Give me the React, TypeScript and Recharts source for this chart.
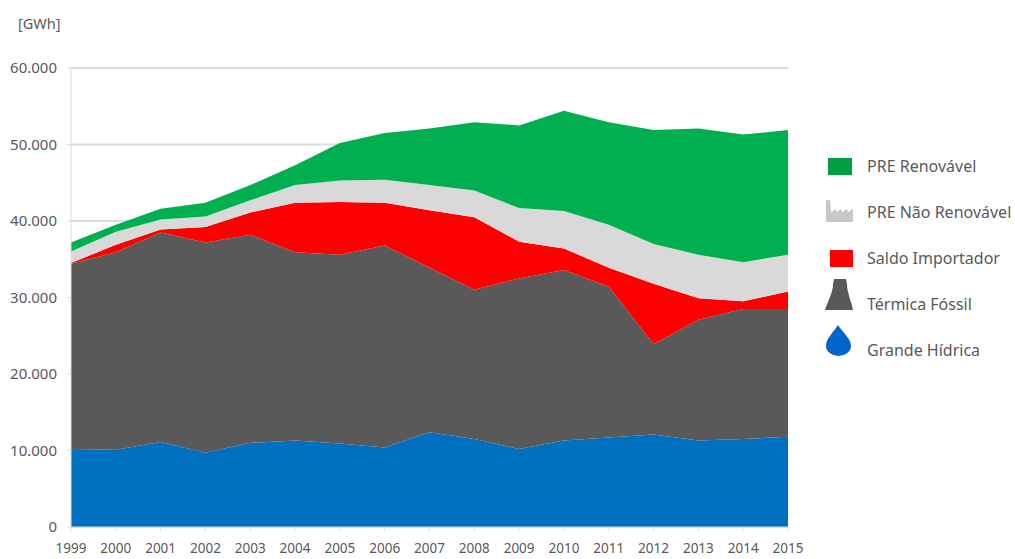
import React from 'react';
import { AreaChart, Area, XAxis, YAxis, CartesianGrid, Legend } from 'recharts';

const years = ['1999', '2000', '2001', '2002', '2003', '2004', '2005', '2006', '2007', '2008', '2009', '2010', '2011', '2012', '2013', '2014', '2015'];
const grandeHidrica = [10200, 10100, 11100, 9700, 11000, 11300, 10900, 10400, 12400, 11500, 10200, 11300, 11700, 12100, 11300, 11500, 11800];
const termicaFossil = [24200, 25800, 27400, 27500, 27200, 24600, 24700, 26400, 21500, 19500, 22300, 22300, 19700, 11800, 15800, 17000, 16700];
const saldoImportador = [100, 1000, 400, 2000, 2900, 6500, 6900, 5600, 7500, 9500, 4800, 2800, 2500, 7900, 2800, 1000, 2300];
const preNaoRenovavel = [1500, 1700, 1300, 1400, 1600, 2300, 2800, 3000, 3300, 3500, 4400, 4900, 5600, 5200, 5700, 5100, 4800];
const preRenovavel = [1200, 900, 1400, 1800, 2000, 2600, 4900, 6100, 7400, 8900, 10800, 13100, 13400, 14900, 16500, 16700, 16300];
const yTicks = [0, 10000, 20000, 30000, 40000, 50000, 60000];
const legendOrder = ['PRE Renovável', 'PRE Não Renovável', 'Saldo Importador', 'Térmica Fóssil', 'Grande Hídrica'];

const FONT = '"Noto Sans", sans-serif';
const AXIS_COLOR = '#dcdcdc';
const TEXT_COLOR = '#595959';

const chartData = years.map((year, i) => ({
  year,
  'Grande Hídrica': grandeHidrica[i],
  'Térmica Fóssil': termicaFossil[i],
  'Saldo Importador': saldoImportador[i],
  'PRE Não Renovável': preNaoRenovavel[i],
  'PRE Renovável': preRenovavel[i],
}));

const formatThousands = (value: number) => String(value).replace(/\B(?=(\d{3})+$)/g, '.');

const legendIcons: Record<string, React.ReactNode> = {
  'PRE Renovável': <rect x={3} y={7} width={24} height={17} fill="#00a03e" />,
  'PRE Não Renovável': <path d="M1 25 L1 3 L5 3 L6 15 L11 12 L12 15 L16 12 L17 15 L22 12 L23 15 L28 12 L28 25 Z" fill="#c8c8c8" />,
  'Saldo Importador': <rect x={5} y={7} width={23} height={17} fill="#ff0000" />,
  'Térmica Fóssil': <path transform="translate(0,-10)" d="M9 0 L21 0 L22 5 C22 14 27 24 28 31 L0 31 C2 24 8 14 8 5 Z" fill="#595959" />,
  'Grande Hídrica': <path transform="translate(0,-10)" d="M13 0 C17 7 26 13 26 21 A12.5 10 0 0 1 1 21 C1 13 9 7 13 0 Z" fill="#0066cc" />,
};

const FuelLegend = () => {
  return (
    <div style={{ fontFamily: FONT, fontSize: 16, color: TEXT_COLOR }}>
      {legendOrder.map((name) => (
        <div key={name} style={{ position: 'relative', height: 46, width: 190 }}>
          <svg width={30} height={32} style={{ position: 'absolute', left: 0, top: 0, overflow: 'visible' }}>
            {legendIcons[name]}
          </svg>
          <span style={{ position: 'absolute', left: 42, top: 4, whiteSpace: 'nowrap' }}>{name}</span>
        </div>
      ))}
    </div>
  );
};

const App: React.FC = () => {
  return (
    <div style={{ position: 'absolute', left: 0, top: 0, width: 1015, height: 559, background: '#fff' }}>
      <div style={{ position: 'absolute', left: 18, top: 13, fontFamily: FONT, fontSize: 14.5, color: TEXT_COLOR }}>[GWh]</div>
      <AreaChart width={1015} height={559} data={chartData} margin={{ top: 68, right: 227, bottom: 0, left: 0 }}>
        <CartesianGrid vertical={false} stroke={AXIS_COLOR} strokeWidth={2} />
        <XAxis
          dataKey="year"
          interval={0}
          height={32}
          stroke={AXIS_COLOR}
          tickSize={4}
          tickMargin={12}
          tick={{ fill: TEXT_COLOR, fontSize: 13.5, fontFamily: FONT }}
        />
        <YAxis
          width={71}
          domain={[0, 60000]}
          ticks={yTicks}
          tickFormatter={formatThousands}
          stroke={AXIS_COLOR}
          tickSize={4}
          tickMargin={10}
          tick={{ fill: TEXT_COLOR, fontSize: 15, fontFamily: FONT }}
        />
        <Legend
          content={<FuelLegend />}
          layout="vertical"
          verticalAlign="middle"
          align="center"
          wrapperStyle={{ left: 825, top: 151, width: 190 }}
        />
        <Area type="linear" dataKey="Grande Hídrica" stackId="1" stroke="none" fill="#0070c0" fillOpacity={1} isAnimationActive={false} />
        <Area type="linear" dataKey="Térmica Fóssil" stackId="1" stroke="none" fill="#595959" fillOpacity={1} isAnimationActive={false} />
        <Area type="linear" dataKey="Saldo Importador" stackId="1" stroke="none" fill="#ff0000" fillOpacity={1} isAnimationActive={false} />
        <Area type="linear" dataKey="PRE Não Renovável" stackId="1" stroke="none" fill="#d9d9d9" fillOpacity={1} isAnimationActive={false} />
        <Area type="linear" dataKey="PRE Renovável" stackId="1" stroke="none" fill="#00b050" fillOpacity={1} isAnimationActive={false} />
      </AreaChart>
    </div>
  );
};

export default App;
